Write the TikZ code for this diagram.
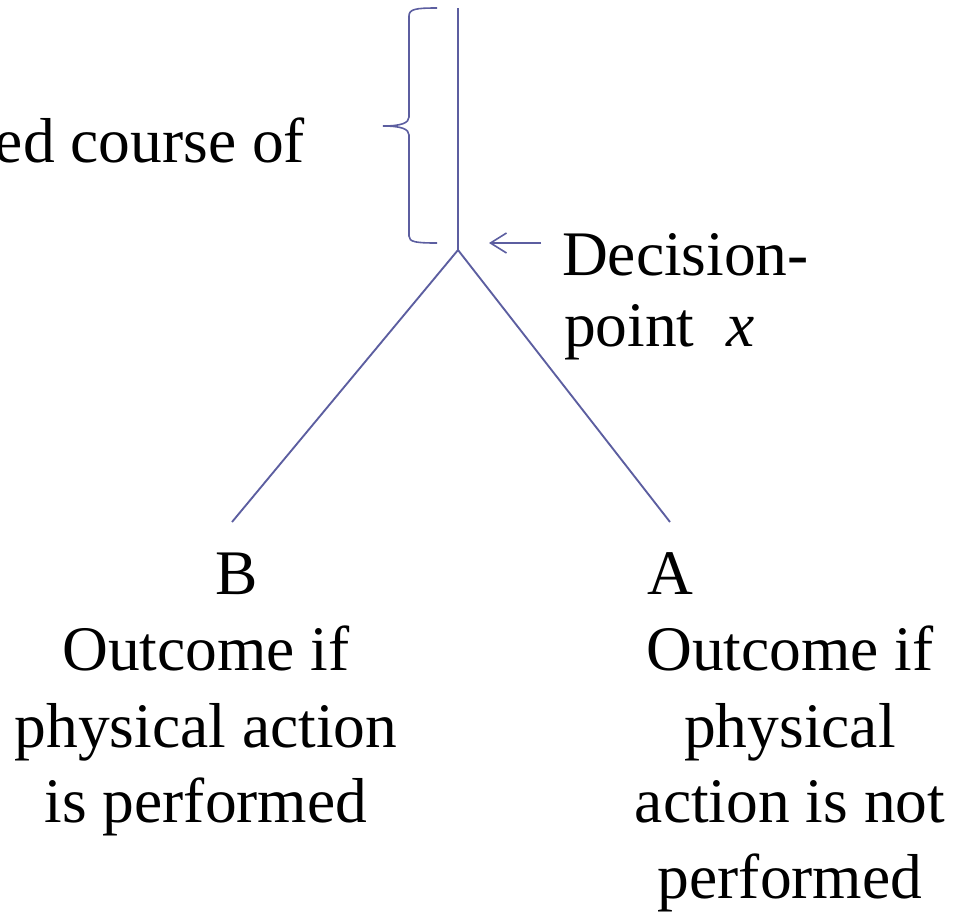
\documentclass[tikz,border=0pt]{standalone}
\usepackage{fontspec}
\setmainfont{Liberation Serif}
\usetikzlibrary{arrows.meta}
\definecolor{treeline}{RGB}{92,94,160}
\begin{document}
\begin{tikzpicture}[x=0.75pt,y=-0.75pt,
  every node/.style={inner sep=0pt,outer sep=0pt,font=\fontsize{47.6}{57}\selectfont},
  branch/.style={draw=treeline,line width=1.4pt},
  label/.style={anchor=base}]
\useasboundingbox (0,0) rectangle (955,915);

% trunk and fork
\coordinate (top) at (458,8);
\coordinate (fork) at (458,250);
\coordinate (leftend) at (232,522);
\coordinate (rightend) at (670,522);
\draw[branch] (top) -- (fork);
\draw[branch] (fork) -- (leftend);
\draw[branch] (fork) -- (rightend);

% brace beside the trunk
\draw[branch,line width=1.2pt] (437,8) .. controls (416,8) and (409,9) .. (409,16)
  -- (409,117) .. controls (409,123) and (401,126) .. (383,126)
  .. controls (401,126) and (409,129) .. (409,135)
  -- (409,236) .. controls (409,242) and (416,243) .. (437,243);
\node[label,anchor=base east] (course) at (305,162) {ed course of};

% decision point label and pointer
\node[label,anchor=base west] (dec1) at (562,275) {Decision-};
\node[label,anchor=base west] (dec2) at (564,346) {point~~\textit{x}};
\coordinate (tail) at (541,243);
\coordinate (tip) at (489,243);
\draw[branch,line width=1.2pt,-{Straight Barb[length=12pt,width=15pt]}] (tail) -- (tip);

% outcome B
\node[label] (B) at (237,594) {B};
\node[label] (b1) at (206,670) {Outcome if};
\node[label] (b2) at (206,747) {physical action};
\node[label] (b3) at (206,822) {is performed};

% outcome A
\node[label] (A) at (670,594) {A};
\node[label] (a1) at (790,670) {Outcome if};
\node[label] (a2) at (790,747) {physical};
\node[label] (a3) at (790,822) {action is not};
\node[label] (a4) at (790,898) {performed};
\end{tikzpicture}
\end{document}
